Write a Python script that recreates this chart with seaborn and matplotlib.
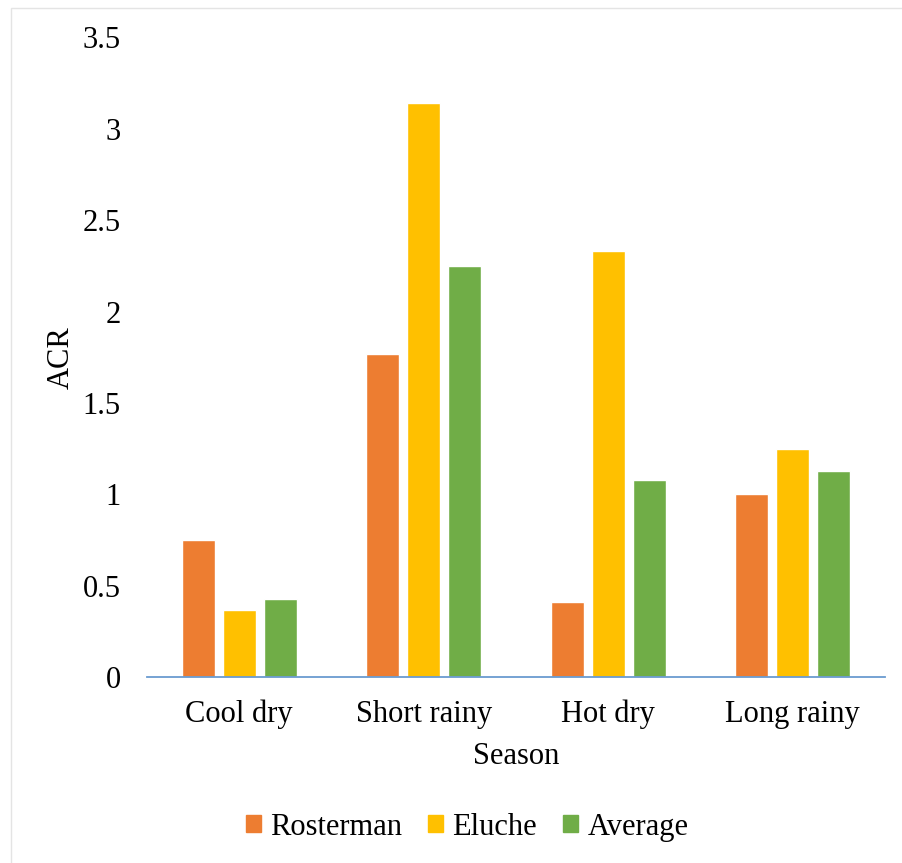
import matplotlib
matplotlib.use("Agg")
import matplotlib.pyplot as plt
from matplotlib.patches import Rectangle
import pandas as pd
import seaborn as sns

seasons = ["Cool dry", "Short rainy", "Hot dry", "Long rainy"]
series = ["Rosterman", "Eluche", "Average"]
rosterman = [0.75, 1.77, 0.41, 1.00]
eluche = [0.37, 3.14, 2.33, 1.25]
average = [0.43, 2.25, 1.08, 1.13]
colors = ["#ED7D31", "#FFC000", "#70AD47"]
yticks = [0, 0.5, 1, 1.5, 2, 2.5, 3, 3.5]
ytick_labels = ["0", "0.5", "1", "1.5", "2", "2.5", "3", "3.5"]

df = pd.DataFrame({
    "Season": seasons * 3,
    "Series": [s for s in series for _ in seasons],
    "ACR": rosterman + eluche + average,
})

sns.set_theme(style="white")
plt.rcParams["font.family"] = ["Liberation Serif", "DejaVu Serif"]
plt.rcParams["text.color"] = "black"
plt.rcParams["axes.labelcolor"] = "black"

fig = plt.figure(figsize=(9.02, 8.63), dpi=100)
ax = fig.add_axes([0.163, 0.2152, 0.818, 0.7416])

sns.barplot(data=df, x="Season", y="ACR", hue="Series", order=seasons,
            hue_order=series, palette=colors, width=0.667, gap=0.2,
            saturation=1, ax=ax, legend=False)

ax.set_xlim(-0.5, 3.5)
ax.set_ylim(0, 3.5)
ax.set_yticks(yticks)
ax.set_yticklabels(ytick_labels)
for s in ["top", "right", "left"]:
    ax.spines[s].set_visible(False)
ax.spines["bottom"].set_color("#6A9BD0")
ax.spines["bottom"].set_linewidth(1.3)
ax.tick_params(axis="both", length=0, labelsize=22, colors="black")
ax.tick_params(axis="y", pad=19)
ax.tick_params(axis="x", pad=16)
ax.set_xlabel("Season", fontsize=22, labelpad=9)
ax.set_ylabel("ACR", fontsize=22, labelpad=5)

handles = [Rectangle((0, 0), 1, 1, color=c) for c in colors]
fig.legend(handles, series, loc="center", bbox_to_anchor=(467 / 902, 1 - 827 / 863),
           ncol=3, frameon=False, fontsize=22, handlelength=0.5, handleheight=0.5,
           handletextpad=0.3, columnspacing=0.85)

# light frame line along the top and left edges of the figure
fig.patches.append(Rectangle((11 / 902, -0.1), 1.2, 0.1 + 1 - 8 / 863,
                             transform=fig.transFigure, fill=False,
                             edgecolor="#E4E4E4", linewidth=1.0))

fig.savefig("out.png", dpi=100)
